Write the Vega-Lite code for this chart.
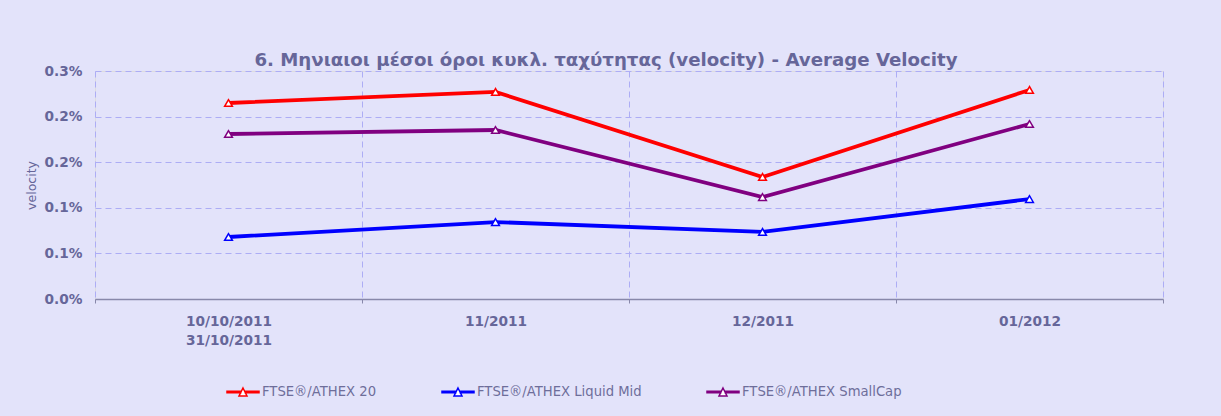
{
  "$schema": "https://vega.github.io/schema/vega-lite/v6.json",
  "autosize": "none",
  "width": 1068,
  "height": 228,
  "padding": {"left": 95, "top": 71, "right": 58, "bottom": 117},
  "background": "#E3E3FA",
  "title": {
    "text": "6. Μηνιαιοι μέσοι όροι κυκλ. ταχύτητας (velocity) - Average Velocity",
    "font": "DejaVu Sans",
    "fontSize": 18.2,
    "fontWeight": "bold",
    "color": "#666699",
    "anchor": "middle",
    "dx": -23,
    "dy": 23.5,
    "baseline": "alphabetic",
    "offset": 3
  },
  "data": {
    "values": [
      {"period": "10/10/2011\n31/10/2011", "series": "FTSE®/ATHEX 20", "velocity": 0.002149},
      {"period": "11/2011", "series": "FTSE®/ATHEX 20", "velocity": 0.002270},
      {"period": "12/2011", "series": "FTSE®/ATHEX 20", "velocity": 0.001338},
      {"period": "01/2012", "series": "FTSE®/ATHEX 20", "velocity": 0.002292},
      {"period": "10/10/2011\n31/10/2011", "series": "FTSE®/ATHEX Liquid Mid", "velocity": 0.000680},
      {"period": "11/2011", "series": "FTSE®/ATHEX Liquid Mid", "velocity": 0.000844},
      {"period": "12/2011", "series": "FTSE®/ATHEX Liquid Mid", "velocity": 0.000735},
      {"period": "01/2012", "series": "FTSE®/ATHEX Liquid Mid", "velocity": 0.001096},
      {"period": "10/10/2011\n31/10/2011", "series": "FTSE®/ATHEX SmallCap", "velocity": 0.001809},
      {"period": "11/2011", "series": "FTSE®/ATHEX SmallCap", "velocity": 0.001853},
      {"period": "12/2011", "series": "FTSE®/ATHEX SmallCap", "velocity": 0.001118},
      {"period": "01/2012", "series": "FTSE®/ATHEX SmallCap", "velocity": 0.001919}
    ]
  },
  "encoding": {
    "x": {
      "field": "period",
      "type": "nominal",
      "sort": null,
      "scale": {"type": "band", "paddingInner": 0, "paddingOuter": 0},
      "axis": {
        "title": null,
        "labelAngle": 0,
        "labelExpr": "split(datum.label, '\\n')",
        "labelFont": "DejaVu Sans",
        "labelFontSize": 13.7,
        "labelFontWeight": "bold",
        "labelColor": "#666699",
        "labelLineHeight": 19,
        "labelPadding": 11,
        "tickBand": "extent",
        "ticks": true,
        "tickSize": 4,
        "tickColor": "#8888AA",
        "domainColor": "#8888AA",
        "domainWidth": 1.5,
        "grid": true,
        "gridColor": "#ADADF5",
        "gridDash": [6, 4],
        "gridWidth": 1
      }
    },
    "y": {
      "field": "velocity",
      "type": "quantitative",
      "scale": {"domain": [0, 0.0025], "nice": false},
      "axis": {
        "title": "velocity",
        "titleFont": "DejaVu Sans",
        "titleFontSize": 12.5,
        "titleFontWeight": "normal",
        "titleColor": "#666699",
        "titlePadding": 6,
        "values": [0, 0.0005, 0.001, 0.0015, 0.002, 0.0025],
        "labelExpr": "format(datum.value * 100 + 1e-9, '.1f') + '%'",
        "labelFont": "DejaVu Sans",
        "labelFontSize": 13.7,
        "labelFontWeight": "bold",
        "labelColor": "#666699",
        "labelPadding": 13,
        "domain": false,
        "ticks": false,
        "grid": true,
        "gridColor": "#ADADF5",
        "gridDash": [6, 4],
        "gridWidth": 1
      }
    },
    "stroke": {
      "field": "series",
      "type": "nominal",
      "scale": {
        "domain": ["FTSE®/ATHEX 20", "FTSE®/ATHEX Liquid Mid", "FTSE®/ATHEX SmallCap"],
        "range": ["#FF0000", "#0000FF", "#800080"]
      },
      "legend": {
        "title": null,
        "orient": "none",
        "legendX": 131,
        "legendY": 304,
        "direction": "horizontal",
        "padding": 0,
        "symbolType": "M-1,-0.047H-0.14V0.047H-1ZM0.14,-0.047H1V0.047H0.14ZM0,-0.25L0.25,0.25L-0.25,0.25Z",
        "symbolSize": 1024,
        "symbolFillColor": "white",
        "symbolStrokeWidth": 1.5,
        "symbolOpacity": 1,
        "labelFont": "DejaVu Sans",
        "labelFontSize": 13.2,
        "labelColor": "#6E6E9A",
        "labelOffset": 2,
        "labelLimit": 400,
        "columnPadding": 62
      }
    }
  },
  "layer": [
    {"mark": {"type": "line", "strokeWidth": 3.8}},
    {"mark": {"type": "point", "shape": "triangle-up", "size": 60, "filled": true, "fill": "white", "strokeWidth": 1.5, "opacity": 1}}
  ]
}
